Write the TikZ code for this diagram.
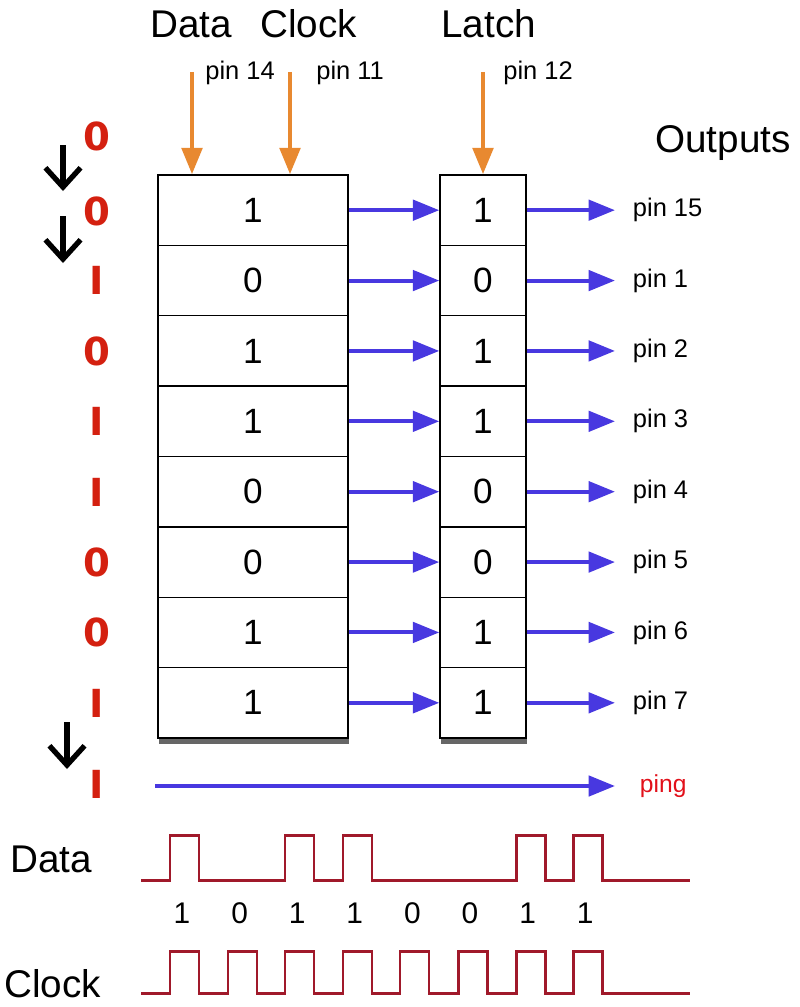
\documentclass[tikz,border=0pt]{standalone}
\usepackage{fontspec}
\setmainfont{Liberation Sans}
\newfontfamily\bitfont{DejaVu Sans}
\usetikzlibrary{arrows.meta,shadows}

\definecolor{bitred}{RGB}{212,32,16}
\definecolor{pingred}{RGB}{226,16,26}
\definecolor{shiftblue}{RGB}{72,56,224}
\definecolor{pinorange}{RGB}{232,137,48}
\definecolor{wavered}{RGB}{160,25,42}

\tikzset{
  title/.style={font=\fontsize{22}{26}\selectfont, inner sep=0},
  pinlabel/.style={font=\fontsize{14.5}{17}\selectfont, inner sep=0},
  outlabel/.style={font=\fontsize{14.5}{17}\selectfont, anchor=west, inner ysep=0, inner xsep=10pt},
  cell/.style={draw, line width=0.8pt, minimum height=1.4075cm, inner sep=0, font=\fontsize{20}{24}\selectfont},
  regbox/.style={fill=white, drop shadow={shadow xshift=0.8pt, shadow yshift=-3.5pt, opacity=0.75, fill=black!80}},
  bitlabel/.style={text=bitred, inner sep=0, font=\bitfont\bfseries\fontsize{22}{25}\selectfont},
  shiftarrow/.style={shiftblue, line width=2.3pt, -{Triangle[length=15pt, width=11.5pt]}},
  pinarrow/.style={pinorange, line width=2.6pt, -{Triangle[length=15pt, width=11.5pt]}},
  downarrow/.style={black, line width=3pt, -{Straight Barb[length=11pt, width=20pt, line width=3pt]}},
  wave/.style={wavered, line width=1.7pt, line join=miter}
}

\begin{document}
\begin{tikzpicture}[x=0.02cm, y=-0.02cm]
\useasboundingbox (0,0) rectangle (800,1007);

% titles
\node[title, anchor=base west] (tdata) at (150,38) {Data};
\node[title, anchor=base west] (tclock) at (260,38) {Clock};
\node[title, anchor=base west] (tlatch) at (441,38) {Latch};
\node[title, anchor=base west] (touts) at (655,153) {Outputs};
\node[pinlabel, anchor=base west] (p14) at (205,80) {pin 14};
\node[pinlabel, anchor=base west] (p11) at (316,80) {pin 11};
\node[pinlabel, anchor=base west] (p12) at (503,80) {pin 12};

% shift register and latch
\path[regbox] (158,175) rectangle (348,738);
\path[regbox] (440,175) rectangle (526,738);
\foreach \i/\s/\p in {1/1/15, 2/0/1, 3/1/2, 4/1/3, 5/0/4, 6/0/5, 7/1/6, 8/1/7} {
  \node[cell, minimum width=3.8cm] (s\i) at (253,{175+70.375*(\i-0.5)}) {\s};
  \node[cell, minimum width=1.72cm] (l\i) at (483,{175+70.375*(\i-0.5)}) {\s};
  \node[outlabel] (o\i) at (615,{175+70.375*(\i-0.5)}) {pin \p};
  \draw[shiftarrow] (s\i.east) -- (l\i.west);
  \draw[shiftarrow] (l\i.east) -- (o\i.west);
}

% inputs
\coordinate (din) at (192,72);
\coordinate (cin) at (290,72);
\coordinate (lin) at (483,72);
\draw[pinarrow] (din) -- (din |- s1.north);
\draw[pinarrow] (cin) -- (cin |- s1.north);
\draw[pinarrow] (lin) -- (l1.north);

% serial out
\coordinate (pingstart) at (155,786);
\node[anchor=west, inner ysep=0, inner xsep=14pt, text=pingred, font=\fontsize{14}{16}\selectfont] (ping) at (615,786) {ping};
\draw[shiftarrow] (pingstart) -- (ping.west);

% bits shifted in
\foreach \y/\b in {136/0, 211/0, 280/I, 351/0, 421/I, 492/I, 562/0, 632/0, 703/I, 784/I}
  \node[bitlabel] at (97,\y) {\b};
\draw[downarrow] (63,145) -- (63,191);
\draw[downarrow] (63,216) -- (63,263);
\draw[downarrow] (67,722) -- (67,769);

% timing
\node[title, anchor=base west] (wdata) at (10,872) {Data};
\node[title, anchor=base west] (wclock) at (4,997) {Clock};
\draw[wave] (141,880) -- (170,880) -- (170,835) -- (199,835) -- (199,880)
  -- (285,880) -- (285,835) -- (314,835) -- (314,880)
  -- (343,880) -- (343,835) -- (372,835) -- (372,880)
  -- (516,880) -- (516,835) -- (545,835) -- (545,880)
  -- (573,880) -- (573,835) -- (602,835) -- (602,880) -- (690,880);
\draw[wave] (141,993) -- (170,993) -- (170,951) -- (199,951) -- (199,993)
  -- (228,993) -- (228,951) -- (257,951) -- (257,993)
  -- (285,993) -- (285,951) -- (314,951) -- (314,993)
  -- (343,993) -- (343,951) -- (372,951) -- (372,993)
  -- (400,993) -- (400,951) -- (429,951) -- (429,993)
  -- (458,993) -- (458,951) -- (487,951) -- (487,993)
  -- (516,993) -- (516,951) -- (545,951) -- (545,993)
  -- (573,993) -- (573,951) -- (602,951) -- (602,993) -- (690,993);
\foreach \b [count=\k from 0] in {1,0,1,1,0,0,1,1}
  \node[font=\fontsize{17}{20}\selectfont, inner sep=0] (bit\k) at ({182+57.6*\k},913) {\b};

\end{tikzpicture}
\end{document}
